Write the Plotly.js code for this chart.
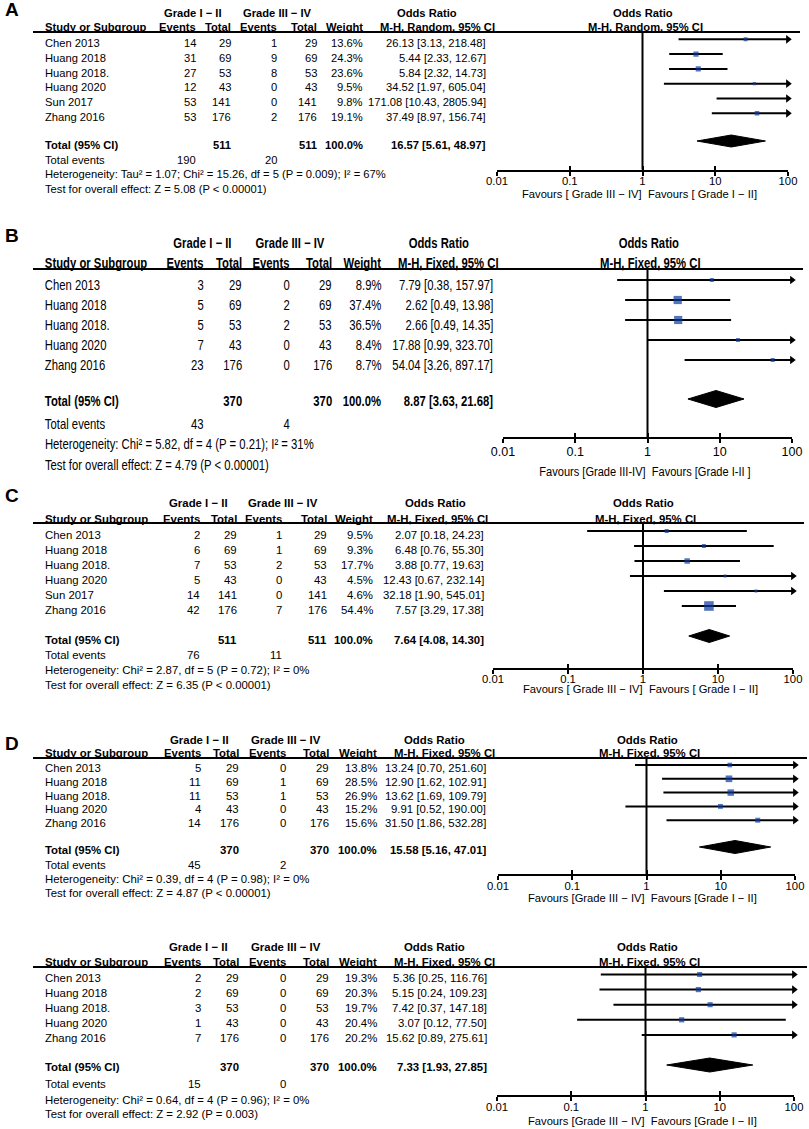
<!DOCTYPE html>
<html><head><meta charset="utf-8">
<script src="https://cdn.plot.ly/plotly-3.0.1.min.js"></script>
<style>body{margin:0;background:#fff}#chart{width:809px;height:1129px}</style>
</head><body><div id="chart"></div>
<script>
// ---------------- DATA ----------------
const tickVals = [0.01, 0.1, 1, 10, 100];
const tickText = ["0.01", "0.1", "1", "10", "100"];
const groupLabels = ["Grade I − II", "Grade III − IV"];

// Panel A
const studiesA = ["Chen 2013","Huang 2018","Huang 2018.","Huang 2020","Sun 2017","Zhang 2016"];
const eventsA1 = [14,31,27,12,53,53];
const totalA1 = [29,69,53,43,141,176];
const eventsA2 = [1,9,8,0,0,2];
const totalA2 = [29,69,53,43,141,176];
const weightA = [13.6,24.3,23.6,9.5,9.8,19.1];
const orA = [26.13,5.44,5.84,34.52,171.08,37.49];
const lowA = [3.13,2.33,2.32,1.97,10.43,8.97];
const highA = [218.48,12.67,14.73,605.04,2805.94,156.74];
const sumsA = [511,511,190,20];          // total n1, total n2, events1, events2
const pooledA = [16.57,5.61,48.97];      // OR, low, high
const hetA = "Heterogeneity: Tau² = 1.07; Chi² = 15.26, df = 5 (P = 0.009); I² = 67%";
const testA = "Test for overall effect: Z = 5.08 (P < 0.00001)";
const methodA = "M-H, Random, 95% CI";
const favoursA = "Favours [ Grade III − IV]\u00a0\u00a0Favours [ Grade I − II]";

// Panel B
const studiesB = ["Chen 2013","Huang 2018","Huang 2018.","Huang 2020","Zhang 2016"];
const eventsB1 = [3,5,5,7,23];
const totalB1 = [29,69,53,43,176];
const eventsB2 = [0,2,2,0,0];
const totalB2 = [29,69,53,43,176];
const weightB = [8.9,37.4,36.5,8.4,8.7];
const orB = [7.79,2.62,2.66,17.88,54.04];
const lowB = [0.38,0.49,0.49,0.99,3.26];
const highB = [157.97,13.98,14.35,323.70,897.17];
const sumsB = [370,370,43,4];
const pooledB = [8.87,3.63,21.68];
const hetB = "Heterogeneity: Chi² = 5.82, df = 4 (P = 0.21); I² = 31%";
const testB = "Test for overall effect: Z = 4.79 (P < 0.00001)";
const methodB = "M-H, Fixed, 95% CI";
const favoursB = "Favours [Grade III-IV]\u00a0\u00a0Favours [Grade I-II ]";

// Panel C
const studiesC = ["Chen 2013","Huang 2018","Huang 2018.","Huang 2020","Sun 2017","Zhang 2016"];
const eventsC1 = [2,6,7,5,14,42];
const totalC1 = [29,69,53,43,141,176];
const eventsC2 = [1,1,2,0,0,7];
const totalC2 = [29,69,53,43,141,176];
const weightC = [9.5,9.3,17.7,4.5,4.6,54.4];
const orC = [2.07,6.48,3.88,12.43,32.18,7.57];
const lowC = [0.18,0.76,0.77,0.67,1.90,3.29];
const highC = [24.23,55.30,19.63,232.14,545.01,17.38];
const sumsC = [511,511,76,11];
const pooledC = [7.64,4.08,14.30];
const hetC = "Heterogeneity: Chi² = 2.87, df = 5 (P = 0.72); I² = 0%";
const testC = "Test for overall effect: Z = 6.35 (P < 0.00001)";
const methodC = "M-H, Fixed, 95% CI";
const favoursC = "Favours [ Grade III − IV]\u00a0\u00a0Favours [ Grade I − II]";

// Panel D
const studiesD = ["Chen 2013","Huang 2018","Huang 2018.","Huang 2020","Zhang 2016"];
const eventsD1 = [5,11,11,4,14];
const totalD1 = [29,69,53,43,176];
const eventsD2 = [0,1,1,0,0];
const totalD2 = [29,69,53,43,176];
const weightD = [13.8,28.5,26.9,15.2,15.6];
const orD = [13.24,12.90,13.62,9.91,31.50];
const lowD = [0.70,1.62,1.69,0.52,1.86];
const highD = [251.60,102.91,109.79,190.00,532.28];
const sumsD = [370,370,45,2];
const pooledD = [15.58,5.16,47.01];
const hetD = "Heterogeneity: Chi² = 0.39, df = 4 (P = 0.98); I² = 0%";
const testD = "Test for overall effect: Z = 4.87 (P < 0.00001)";
const methodD = "M-H, Fixed, 95% CI";
const favoursD = "Favours [Grade III − IV]\u00a0\u00a0Favours [Grade I − II]";

// Panel E (unlabelled)
const studiesE = ["Chen 2013","Huang 2018","Huang 2018.","Huang 2020","Zhang 2016"];
const eventsE1 = [2,2,3,1,7];
const totalE1 = [29,69,53,43,176];
const eventsE2 = [0,0,0,0,0];
const totalE2 = [29,69,53,43,176];
const weightE = [19.3,20.3,19.7,20.4,20.2];
const orE = [5.36,5.15,7.42,3.07,15.62];
const lowE = [0.25,0.24,0.37,0.12,0.89];
const highE = [116.76,109.23,147.18,77.50,275.61];
const sumsE = [370,370,15,0];
const pooledE = [7.33,1.93,27.85];
const hetE = "Heterogeneity: Chi² = 0.64, df = 4 (P = 0.96); I² = 0%";
const testE = "Test for overall effect: Z = 2.92 (P = 0.003)";
const methodE = "M-H, Fixed, 95% CI";
const favoursE = "Favours [Grade III − IV]\u00a0\u00a0Favours [Grade I − II]";

// ---------------- LAYOUT / STYLE ----------------
const W = 809, H = 1129;
const SANS = "Liberation Sans, Arial, Helvetica, sans-serif";
const BOX = "#0b3a9e";
const TXT = "#000";

const panels = [
  {studies:studiesA, ev1:eventsA1, n1:totalA1, ev2:eventsA2, n2:totalA2, w:weightA, or:orA, lo:lowA, hi:highA,
   sums:sumsA, pooled:pooledA, het:hetA, test:testA, method:methodA, favours:favoursA, letter:"A",
   size:11.2, narrow:1, tickSize:11.3, tickShift:-4, boxK:1.05,
   pos:{letterY:10, h1:13, h2:27, line:32, lineEnd:800, textTop:43, step:14.8, plotTop:39.3,
        totalY:145, diamondY:141, dh:6, evY:160, hetY:174, testY:189, axis:169.5, favY:194, favX:639,
        x0:497, x1:788, ev1:197, n1:232, ev2:278, n2:318, wt:364, orR:487,
        g1:193, g2:277, orC:427, mhC:437, rOrC:643, rMhC:645}},
  {studies:studiesB, ev1:eventsB1, n1:totalB1, ev2:eventsB2, n2:totalB2, w:weightB, or:orB, lo:lowB, hi:highB,
   sums:sumsB, pooled:pooledB, het:hetB, test:testB, method:methodB, favours:favoursB, letter:"B",
   size:13.8, narrow:0.82, tickSize:12.5, tickShift:-2, boxK:1.35,
   pos:{letterY:236, h1:243, h2:263, line:269, lineEnd:803, textTop:285, step:20, plotTop:280,
        totalY:401, diamondY:399, dh:8.5, evY:424, hetY:445, testY:465, axis:437, favY:472, favX:645,
        x0:503, x1:792, ev1:205, n1:243, ev2:291, n2:333, wt:382, orR:494,
        g1:202, g2:290, orC:439, mhC:448, rOrC:649, rMhC:650}},
  {studies:studiesC, ev1:eventsC1, n1:totalC1, ev2:eventsC2, n2:totalC2, w:weightC, or:orC, lo:lowC, hi:highC,
   sums:sumsC, pooled:pooledC, het:hetC, test:testC, method:methodC, favours:favoursC, letter:"C",
   size:11.4, narrow:1, tickSize:11.3, tickShift:-5, boxK:1.3,
   pos:{letterY:495, h1:503, h2:519, line:523, lineEnd:804, textTop:535, step:15, plotTop:531,
        totalY:640, diamondY:636, dh:6.5, evY:655, hetY:670, testY:685, axis:668, favY:689, favX:640,
        x0:493, x1:793, ev1:201, n1:238, ev2:283, n2:328, wt:374, orR:485,
        g1:198, g2:283, orC:435, mhC:437, rOrC:643, rMhC:645}},
  {studies:studiesD, ev1:eventsD1, n1:totalD1, ev2:eventsD2, n2:totalD2, w:weightD, or:orD, lo:lowD, hi:highD,
   sums:sumsD, pooled:pooledD, het:hetD, test:testD, method:methodD, favours:favoursD, letter:"D",
   size:11.4, narrow:1, tickSize:11.3, tickShift:-4, boxK:1.25,
   pos:{letterY:743, h1:740, h2:753, line:758, lineEnd:807, textTop:768, step:13.8, plotTop:765,
        totalY:850, diamondY:847, dh:6.5, evY:865, hetY:879, testY:893, axis:874, favY:898, favX:642,
        x0:498, x1:795, ev1:202, n1:240, ev2:287, n2:330, wt:378, orR:487,
        g1:199, g2:286, orC:434, mhC:445, rOrC:647, rMhC:649}},
  {studies:studiesE, ev1:eventsE1, n1:totalE1, ev2:eventsE2, n2:totalE2, w:weightE, or:orE, lo:lowE, hi:highE,
   sums:sumsE, pooled:pooledE, het:hetE, test:testE, method:methodE, favours:favoursE, letter:"",
   size:11.4, narrow:1, tickSize:11.3, tickShift:-4, boxK:1.15,
   pos:{letterY:0, h1:947, h2:962, line:967, lineEnd:807, textTop:978, step:15.1, plotTop:974.5,
        totalY:1067, diamondY:1065, dh:7, evY:1084, hetY:1100, testY:1114, axis:1095, favY:1121, favX:642,
        x0:497, x1:794, ev1:202, n1:240, ev2:287, n2:330, wt:378, orR:488,
        g1:198, g2:286, orC:434, mhC:445, rOrC:647, rMhC:649}}
];

// ---------------- BUILD ----------------
const fx = x => x / W;
const fy = y => 1 - y / H;
const annotations = [], shapes = [], traces = [];
const squeeze = [];   // [annotation index, anchor x px, factor] for condensed panel text
const layout = {width:W, height:H, margin:{l:0,r:0,t:0,b:0}, paper_bgcolor:"#fff",
  plot_bgcolor:"rgba(0,0,0,0)", showlegend:false, annotations, shapes, hovermode:false};

function txt(s, x, y, anchor, size, bold, narrow) {
  if (narrow && narrow !== 1) squeeze.push([annotations.length, x, narrow]);
  annotations.push({text: bold ? "<b>" + s + "</b>" : s, x: fx(x), y: fy(y), xref:"paper", yref:"paper",
    xanchor: anchor, yanchor:"middle", showarrow:false, borderpad:0,
    font:{family:SANS, size:size, color:TXT}});
}
const fmtOR = (o, l, h) => o.toFixed(2) + " [" + l.toFixed(2) + ", " + h.toFixed(2) + "]";

panels.forEach((p, i) => {
  const n = i + 1;
  const sfx = n === 1 ? "" : String(n);
  const xa = "x" + sfx, ya = "y" + sfx;
  const L = p.pos, s = p.size, nr = p.narrow;

  const toRow = py => (py - L.plotTop) / L.step;
  layout["yaxis" + sfx] = {domain:[fy(L.axis), fy(L.line)], range:[toRow(L.axis), toRow(L.line)],
    visible:false, fixedrange:true};
  layout["xaxis" + sfx] = {domain:[fx(L.x0), fx(L.x1)], anchor:ya, type:"log", range:[-2, 2],
    tickmode:"array", tickvals:tickVals, ticktext:tickText, ticks:"outside", ticklen:4, tickwidth:2,
    tickcolor:"#000", showline:true, linecolor:"#000", linewidth:2, showgrid:false, zeroline:false,
    ticklabelstandoff:p.tickShift, tickfont:{family:SANS, size:p.tickSize, color:TXT}, fixedrange:true};
  const ovN = n + 5;
  layout["xaxis" + ovN] = {overlaying:xa, anchor:ya, type:"log", range:[-2, 2], tickmode:"array",
    tickvals:tickVals, ticks:"inside", ticklen:4, tickwidth:2, tickcolor:"#000", showticklabels:false,
    showline:false, showgrid:false, zeroline:false, fixedrange:true};
  traces.push({type:"scatter", mode:"markers", x:[1], y:[0], xaxis:"x" + ovN, yaxis:ya,
    marker:{opacity:0, size:1}, hoverinfo:"skip"});

  shapes.push({type:"line", xref:"paper", yref:"paper", x0:fx(33), x1:fx(L.lineEnd), y0:fy(L.line), y1:fy(L.line),
    line:{color:"#000", width:2}});
  shapes.push({type:"line", xref:xa, yref:ya + " domain", x0:1, x1:1, y0:0, y1:1, line:{color:"#000", width:2}});

  const cx = [], cy = [], ax = [], ay = [];
  p.studies.forEach((st, k) => {
    cx.push(p.lo[k], Math.min(p.hi[k], 100), null); cy.push(k, k, null);
    if (p.hi[k] > 100) { ax.push(100); ay.push(k); }
  });
  traces.push({type:"scatter", mode:"lines", x:cx, y:cy, xaxis:xa, yaxis:ya,
    line:{color:"#000", width:2}, hoverinfo:"skip"});
  traces.push({type:"scatter", mode:"markers", x:ax, y:ay, xaxis:xa, yaxis:ya, cliponaxis:false,
    marker:{symbol:"triangle-right", size:7.5, color:"#000"}, hoverinfo:"skip"});
  traces.push({type:"scatter", mode:"markers", x:p.or, y:p.studies.map((st, k) => k), xaxis:xa, yaxis:ya,
    marker:{symbol:"square", color:BOX, size:p.w.map(w => Math.max(3, p.boxK * Math.sqrt(w))), line:{width:0}},
    hoverinfo:"skip"});
  const t = toRow(L.diamondY), h = L.dh / L.step;
  traces.push({type:"scatter", mode:"lines", x:[p.pooled[1], p.pooled[0], p.pooled[2], p.pooled[0], p.pooled[1]],
    y:[t, t - h, t, t + h, t], fill:"toself", fillcolor:"#000", line:{color:"#000", width:1},
    xaxis:xa, yaxis:ya, hoverinfo:"skip"});

  if (p.letter) txt(p.letter, 12, L.letterY, "center", 19, true, 1);
  txt(groupLabels[0], L.g1, L.h1, "center", s, true, nr);
  txt(groupLabels[1], L.g2, L.h1, "center", s, true, nr);
  txt("Odds Ratio", L.orC, L.h1, "center", s, true, nr);
  txt("Odds Ratio", L.rOrC, L.h1, "center", s, true, nr);
  txt("Study or Subgroup", 44, L.h2, "left", s, true, nr);
  txt("Events", L.ev1, L.h2, "right", s, true, nr);
  txt("Total", L.n1, L.h2, "right", s, true, nr);
  txt("Events", L.ev2, L.h2, "right", s, true, nr);
  txt("Total", L.n2, L.h2, "right", s, true, nr);
  txt("Weight", L.wt, L.h2, "right", s, true, nr);
  txt(p.method, L.mhC, L.h2, "center", s, true, nr);
  txt(p.method, L.rMhC, L.h2, "center", s, true, nr);

  p.studies.forEach((st, k) => {
    const y = L.textTop + k * L.step;
    txt(st, 44, y, "left", s, false, nr);
    txt(String(p.ev1[k]), L.ev1, y, "right", s, false, nr);
    txt(String(p.n1[k]), L.n1, y, "right", s, false, nr);
    txt(String(p.ev2[k]), L.ev2, y, "right", s, false, nr);
    txt(String(p.n2[k]), L.n2, y, "right", s, false, nr);
    txt(p.w[k].toFixed(1) + "%", L.wt, y, "right", s, false, nr);
    txt(fmtOR(p.or[k], p.lo[k], p.hi[k]), L.orR, y, "right", s, false, nr);
  });
  txt("Total (95% CI)", 44, L.totalY, "left", s, true, nr);
  txt(String(p.sums[0]), L.n1, L.totalY, "right", s, true, nr);
  txt(String(p.sums[1]), L.n2, L.totalY, "right", s, true, nr);
  txt("100.0%", L.wt, L.totalY, "right", s, true, nr);
  txt(fmtOR(p.pooled[0], p.pooled[1], p.pooled[2]), L.orR, L.totalY, "right", s, true, nr);
  txt("Total events", 44, L.evY, "left", s, false, nr);
  txt(String(p.sums[2]), L.ev1, L.evY, "right", s, false, nr);
  txt(String(p.sums[3]), L.ev2, L.evY, "right", s, false, nr);
  txt(p.het, 44, L.hetY, "left", s, false, nr);
  txt(p.test, 44, L.testY, "left", s, false, nr);
  txt(p.favours, L.favX, L.favY, "center", (nr !== 1 ? 13.5 : 11.2), false, nr);
});

Plotly.newPlot("chart", traces, layout, {staticPlot:true, displayModeBar:false}).then(() => {
  // condensed typeface for panel B: squeeze its texts horizontally about their anchors
  squeeze.forEach(([idx, x, k]) => {
    const g = document.querySelector('#chart .infolayer g.annotation[data-index="' + idx + '"]');
    if (g) g.setAttribute("transform", "translate(" + x + ",0) scale(" + k + ",1) translate(" + (-x) + ",0)");
  });
});
</script></body></html>
